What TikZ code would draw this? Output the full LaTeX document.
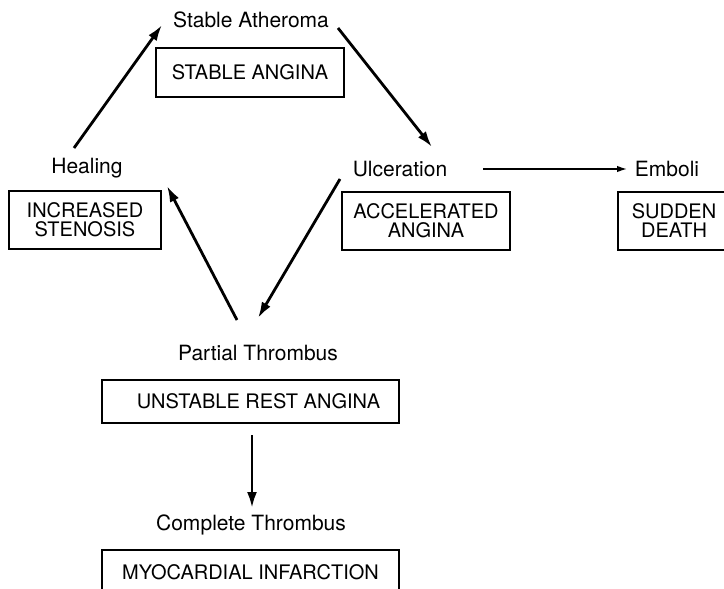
\documentclass[tikz,border=0pt]{standalone}
\usepackage{fontspec}
\setmainfont{TeX Gyre Heros}
\usetikzlibrary{arrows.meta,calc}
\begin{document}
\begin{tikzpicture}[x=1pt,y=-1pt,
  lbl/.style={inner sep=0pt,font=\fontsize{21}{20}\selectfont},
  box/.style={draw,line width=2pt,inner sep=0pt,align=center,font=\fontsize{20}{19}\selectfont},
  arr/.style={line width=2.8pt,-{Latex[length=16pt,width=10pt]}},
  thinarr/.style={line width=1.4pt,-{Latex[length=10pt,width=6.5pt]}}]
\useasboundingbox (0,0) rectangle (724,589);
\begin{scope}
\clip (0,0) rectangle (724,589);
% labels
\node[lbl] (atheroma) at (251,20) {Stable\ Atheroma};
\node[lbl] (healing) at (87,168) {Healing};
\node[lbl] (ulceration) at (400,169) {Ulceration};
\node[lbl] (emboli) at (667,169) {Emboli};
\node[lbl] (partial) at (258,353) {Partial Thrombus};
\node[lbl] (complete) at (251,525) {Complete Thrombus};
% boxes
\node[box,minimum width=188pt,minimum height=49pt] (sa) at (250,72.5) {STABLE ANGINA};
\node[box,minimum width=152pt,minimum height=58pt] (is) at (85,220) {INCREASED\\STENOSIS};
\node[box,minimum width=168pt,minimum height=58pt] (aa) at (426,221) {ACCELERATED\\ANGINA};
\node[box,minimum width=112pt,minimum height=58pt] (sd) at (674,221) {SUDDEN\\DEATH};
\node[box,minimum width=297pt,minimum height=43pt] (ura) at (250.5,401.5) {\hspace{16pt}UNSTABLE REST ANGINA};
\node[box,minimum width=297pt,minimum height=44pt] (mi) at (250.5,572) {MYOCARDIAL INFARCTION};
% arrows
\draw[arr] ($(healing)+(-13,-20)$) -- ($(atheroma)+(-89,5)$);
\draw[arr] ($(atheroma)+(87,8)$) -- ($(ulceration)+(32,-22)$);
\draw[arr] ($(ulceration)+(-60,10)$) -- ($(partial)+(0,-35)$);
\draw[arr] ($(partial)+(-21,-33)$) -- ($(healing)+(80,18)$);
\draw[thinarr] ($(ulceration)+(83,0)$) -- ($(emboli)+(-40,0)$);
\draw[arr] ($(ura.south)+(1.5,11)$) -- ($(complete)+(1,-17)$);
\end{scope}
\end{tikzpicture}
\end{document}
